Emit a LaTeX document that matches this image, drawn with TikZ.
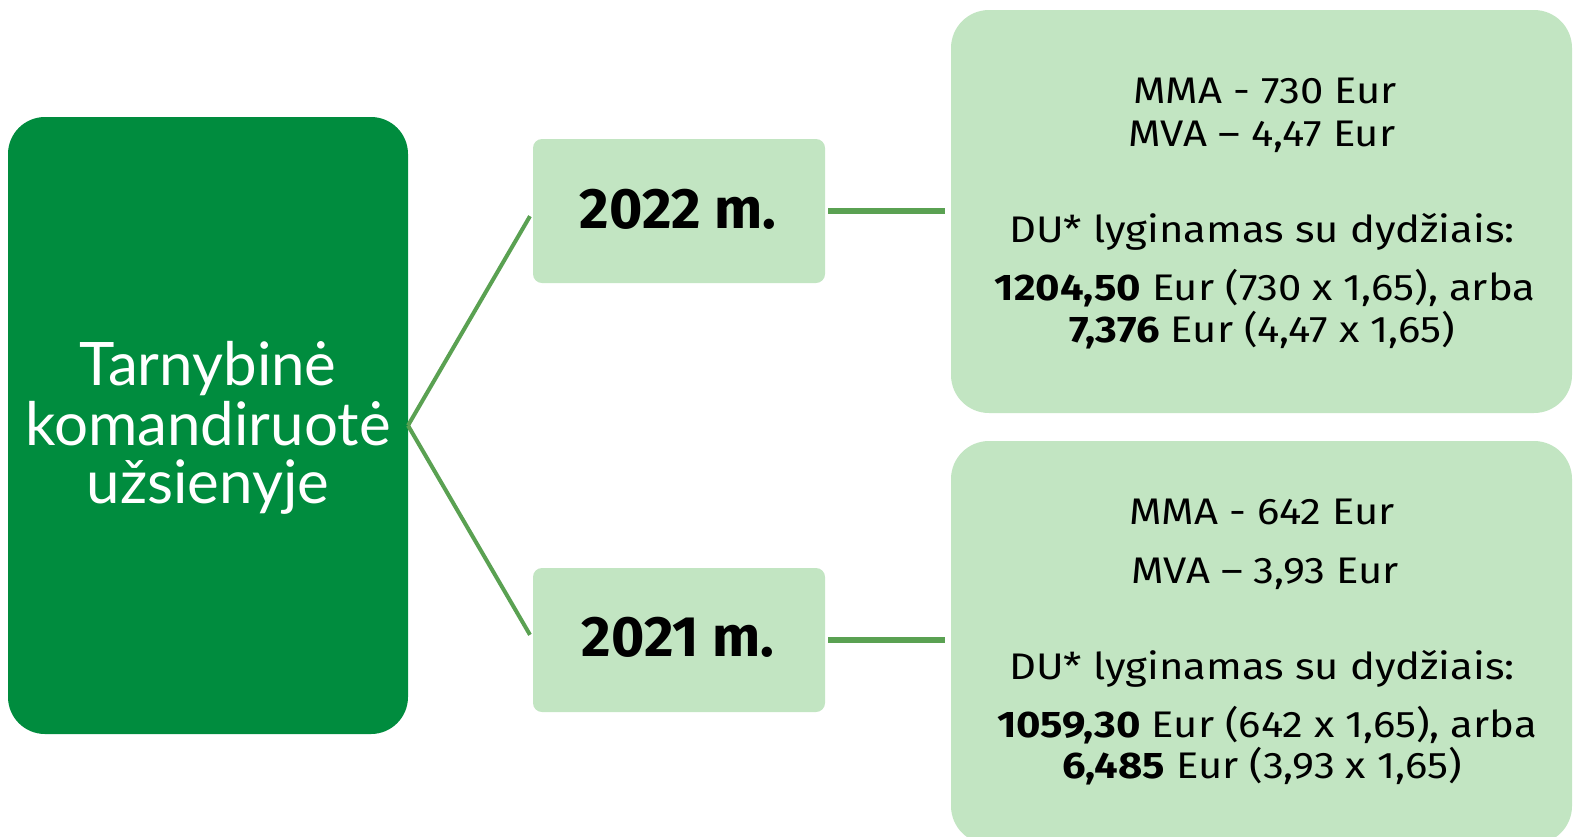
\documentclass[tikz,border=0pt]{standalone}
\usepackage{fontspec}
\setmainfont{Fira Sans}
\newfontfamily\rightfont[FakeStretch=1.13]{Fira Sans}
\newfontfamily\leftfont{Lato}
\definecolor{darkgr}{HTML}{008C3E}
\definecolor{lightgr}{HTML}{C2E5C2}
\definecolor{linegr}{HTML}{5AA152}
\begin{document}
\begin{tikzpicture}[x=1pt,y=-1pt,
  box/.style={rectangle,anchor=north west,inner sep=0pt,outer sep=0pt},
  bigbox/.style={box,fill=lightgr,rounded corners=38pt,minimum width=621pt,minimum height=403pt},
  yearbox/.style={box,fill=lightgr,rounded corners=9pt,minimum width=292pt,minimum height=144pt},
  txt/.style={anchor=base,inner sep=0pt,font=\rightfont\fontsize{37}{40}\selectfont},
  yeartxt/.style={anchor=base,inner sep=0pt,font=\fontsize{57}{60}\selectfont\bfseries},
  lefttxt/.style={anchor=base,inner sep=0pt,text=white,font=\leftfont\fontsize{60}{64}\selectfont},
  diag/.style={draw=linegr,line width=4pt,shorten >=6pt},
  hline/.style={draw=linegr,line width=5.5pt,shorten <=3pt,shorten >=6pt}]
\useasboundingbox (0,0) rectangle (1576,836);
\node[box,fill=darkgr,rounded corners=37pt,minimum width=400pt,minimum height=617pt] (L) at (8,117) {};
\node[lefttxt] (l1) at (208,385) {Tarnybinė};
\node[lefttxt] (l2) at (208,445) {komandiruotė};
\node[lefttxt] (l3) at (208,503) {užsienyje};

\node[yearbox] (y22) at (533,139) {};
\node[yearbox] (y21) at (533,568) {};
\node[yeartxt] (t22) at (678,228) {2022 m.};
\node[yeartxt] (t21) at (678,656) {2021 m.};

\node[bigbox] (r22) at (951,10) {};
\node[bigbox] (r21) at (951,441) {};

\draw[diag] (L.east) -- (y22.west);
\draw[diag] (L.east) -- (y21.west);
\draw[hline] (y22.east) -- (r22.west |- y22.east);
\draw[hline] (y21.east) -- (r21.west |- y21.east);

\node[txt] (a1) at (1265,103) {MMA - 730 Eur};
\node[txt] (a2) at (1262,146) {MVA – 4,47 Eur};
\node[txt] (a3) at (1262,242) {DU* lyginamas su dydžiais:};
\node[txt] (a4) at (1265,300) {\textbf{1204,50} Eur (730 x 1,65), arba};
\node[txt] (a5) at (1262,342) {\textbf{7,376} Eur (4,47 x 1,65)};

\node[txt] (b1) at (1262,524) {MMA - 642 Eur};
\node[txt] (b2) at (1265,583) {MVA – 3,93 Eur};
\node[txt] (b3) at (1262,679) {DU* lyginamas su dydžiais:};
\node[txt] (b4) at (1267,737) {\textbf{1059,30} Eur (642 x 1,65), arba};
\node[txt] (b5) at (1262,778) {\textbf{6,485} Eur (3,93 x 1,65)};
\end{tikzpicture}
\end{document}
